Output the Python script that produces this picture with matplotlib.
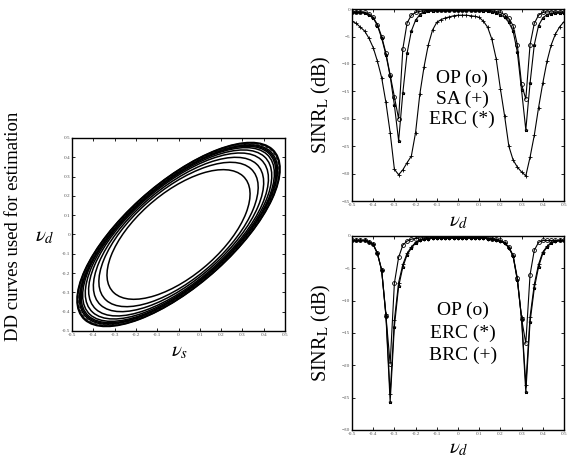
import matplotlib
matplotlib.use("Agg")
import matplotlib.pyplot as plt
from matplotlib.patches import Ellipse

plt.rcParams['font.family'] = ['Liberation Serif', 'DejaVu Serif']
plt.rcParams['mathtext.fontset'] = 'stix'

# DD curves: semi-axes of the tilted ellipses (major along nu_s = nu_d)
semi_major = [0.428, 0.481, 0.517, 0.548, 0.570, 0.587, 0.597, 0.603, 0.609, 0.615, 0.620, 0.624]
semi_minor = [0.206, 0.220, 0.229, 0.237, 0.242, 0.246, 0.248, 0.251, 0.252, 0.253, 0.255, 0.256]
dashed_curve = 9

# SINR curves, sampled on nu_d
nu_d = [-0.50, -0.48, -0.46, -0.44, -0.42, -0.40, -0.38, -0.36, -0.34, -0.32,
        -0.30, -0.28, -0.26, -0.24, -0.22, -0.20, -0.18, -0.16, -0.14, -0.12,
        -0.10, -0.08, -0.06, -0.04, -0.02, 0.00, 0.02, 0.04, 0.06, 0.08,
        0.10, 0.12, 0.14, 0.16, 0.18, 0.20, 0.22, 0.24, 0.26, 0.28,
        0.30, 0.32, 0.34, 0.36, 0.38, 0.40, 0.42, 0.44, 0.46, 0.48, 0.50]

# top panel
top_op = [-0.5, -0.5, -0.5, -0.6, -0.9, -1.5, -2.8, -5.0, -8.0, -12.0,
          -16.0, -20.0, -7.2, -2.5, -1.1, -0.6, -0.4, -0.3, -0.2, -0.2,
          -0.2, -0.2, -0.2, -0.2, -0.2, -0.2, -0.2, -0.2, -0.2, -0.2,
          -0.2, -0.2, -0.2, -0.3, -0.4, -0.6, -1.0, -1.7, -3.0, -6.5,
          -13.7, -16.4, -6.5, -2.6, -1.1, -0.6, -0.5, -0.5, -0.5, -0.5, -0.5]
top_sa = [-2.2, -2.6, -3.3, -4.0, -5.3, -7.0, -9.5, -12.5, -17.0, -22.5,
          -29.2, -30.2, -29.3, -28.0, -26.8, -22.5, -15.5, -10.5, -6.5, -3.8,
          -2.4, -1.9, -1.6, -1.4, -1.2, -1.1, -1.1, -1.1, -1.2, -1.3,
          -1.5, -2.2, -3.3, -5.5, -9.0, -14.5, -19.5, -25.0, -27.5, -28.8,
          -29.7, -30.4, -27.0, -23.0, -18.0, -13.5, -9.5, -6.5, -4.5, -3.2, -2.3]
top_erc = [-0.6, -0.6, -0.6, -0.7, -1.0, -1.6, -3.0, -5.3, -8.3, -12.2,
           -17.5, -24.0, -15.2, -8.0, -4.0, -2.0, -1.0, -0.6, -0.4, -0.3,
           -0.2, -0.2, -0.2, -0.2, -0.2, -0.2, -0.2, -0.2, -0.2, -0.2,
           -0.2, -0.3, -0.4, -0.5, -0.7, -1.0, -1.5, -2.4, -4.0, -7.8,
           -14.8, -22.0, -13.5, -6.5, -3.0, -1.6, -1.0, -0.8, -0.7, -0.7, -0.7]

# bottom panel
bot_op = [-0.7, -0.7, -0.7, -0.7, -0.9, -1.3, -2.7, -5.3, -12.3, -19.8,
          -7.3, -3.3, -1.4, -0.8, -0.5, -0.4, -0.3, -0.3, -0.2, -0.2,
          -0.2, -0.2, -0.2, -0.2, -0.2, -0.2, -0.2, -0.2, -0.2, -0.2,
          -0.2, -0.2, -0.3, -0.4, -0.5, -0.7, -1.0, -1.7, -3.0, -6.5,
          -12.8, -16.6, -6.0, -2.2, -1.0, -0.7, -0.7, -0.7, -0.7, -0.7, -0.7]
bot_erc = [-0.7, -0.7, -0.7, -0.7, -0.9, -1.3, -2.7, -5.3, -12.3, -25.7,
           -14.0, -7.8, -4.8, -2.9, -1.9, -1.1, -0.7, -0.5, -0.4, -0.3,
           -0.3, -0.3, -0.3, -0.3, -0.3, -0.3, -0.3, -0.3, -0.3, -0.3,
           -0.3, -0.3, -0.4, -0.5, -0.6, -0.8, -1.1, -1.8, -3.1, -6.8,
           -12.8, -24.2, -13.3, -8.1, -4.8, -2.7, -1.7, -1.1, -0.8, -0.7, -0.7]
bot_brc = [-0.7, -0.7, -0.7, -0.7, -0.9, -1.3, -2.7, -5.3, -12.0, -24.5,
           -13.0, -7.2, -4.4, -2.7, -1.7, -1.0, -0.6, -0.5, -0.4, -0.3,
           -0.3, -0.3, -0.3, -0.3, -0.3, -0.3, -0.3, -0.3, -0.3, -0.3,
           -0.3, -0.3, -0.4, -0.5, -0.6, -0.8, -1.1, -1.8, -3.1, -6.8,
           -12.6, -23.0, -12.5, -7.5, -4.4, -2.5, -1.6, -1.0, -0.8, -0.7, -0.7]

ticks01 = [-0.5, -0.4, -0.3, -0.2, -0.1, 0, 0.1, 0.2, 0.3, 0.4, 0.5]
tick_txt = ['-0.5', '-0.4', '-0.3', '-0.2', '-0.1', '0', '0.1', '0.2', '0.3', '0.4', '0.5']


def style_axes(ax):
    ax.tick_params(direction='in', top=True, right=True, length=2.5, width=0.6,
                   labelsize=3.8, labelcolor='#555555', pad=1.5)
    for s in ax.spines.values():
        s.set_linewidth(1.0)


fig = plt.figure(figsize=(5.68, 4.59), dpi=100)

# left panel: DD curves
ax0 = fig.add_axes([0.1268, 0.2789, 0.375, 0.4205])
for i, (a, b) in enumerate(zip(semi_major, semi_minor)):
    if i == dashed_curve:
        e = Ellipse((0, 0), 2 * a, 2 * b, angle=45, fill=False, lw=0.9,
                    ls=(0, (2.5, 1.5)), color='#333333')
    else:
        e = Ellipse((0, 0), 2 * a, 2 * b, angle=45, fill=False, lw=1.1, color='black')
    ax0.add_patch(e)
ax0.set_xlim(-0.5, 0.5)
ax0.set_ylim(-0.5, 0.5)
ax0.set_xticks(ticks01, tick_txt)
ax0.set_yticks(ticks01, tick_txt)
style_axes(ax0)

fig.text(14 / 568, 1 - 226 / 459, 'DD curves used for estimation', rotation=90,
         ha='center', va='center', fontsize=13.5)
fig.text(45 / 568, 1 - 237 / 459, r'$\nu_d$', ha='center', va='center', fontsize=15)
fig.text(180 / 568, 1 - 352 / 459, r'$\nu_s$', ha='center', va='center', fontsize=15)

mk = dict(color='black', lw=0.8, markersize=2.8, markerfacecolor='none', markeredgewidth=0.6)

# top right panel
ax1 = fig.add_axes([0.6197, 0.562, 0.3732, 0.418])
ax1.plot(nu_d, top_op, marker='o', **mk)
ax1.plot(nu_d, top_sa, marker='+', **mk)
ax1.plot(nu_d, top_erc, marker='*', **dict(mk, markersize=2.4))
ax1.set_xlim(-0.5, 0.5)
ax1.set_ylim(-35, 0)
ax1.set_xticks(ticks01, tick_txt)
ax1.set_yticks([0, -5, -10, -15, -20, -25, -30, -35])
style_axes(ax1)
ax1.set_ylabel(r'SINR$_{\mathrm{L}}$ (dB)', fontsize=14.5, labelpad=6)
fig.text(459 / 568, 1 - 222 / 459, r'$\nu_d$', ha='center', va='center', fontsize=15)
for label, y in zip(['OP (o)', 'SA (+)', 'ERC (*)'], [78, 99, 119]):
    fig.text(462 / 568, 1 - y / 459, label, ha='center', va='center', fontsize=14)

# bottom right panel
ax2 = fig.add_axes([0.6197, 0.0632, 0.3732, 0.4227])
ax2.plot(nu_d, bot_op, marker='o', **mk)
ax2.plot(nu_d, bot_erc, marker='*', **dict(mk, markersize=2.4))
ax2.plot(nu_d, bot_brc, marker='+', **mk)
ax2.set_xlim(-0.5, 0.5)
ax2.set_ylim(-30, 0)
ax2.set_xticks(ticks01, tick_txt)
ax2.set_yticks([0, -5, -10, -15, -20, -25, -30])
style_axes(ax2)
ax2.set_ylabel(r'SINR$_{\mathrm{L}}$ (dB)', fontsize=14.5, labelpad=6)
fig.text(459 / 568, 1 - 449 / 459, r'$\nu_d$', ha='center', va='center', fontsize=15)
for label, y in zip(['OP (o)', 'ERC (*)', 'BRC (+)'], [310, 333, 355]):
    fig.text(463 / 568, 1 - y / 459, label, ha='center', va='center', fontsize=14)

fig.savefig('out.png', dpi=100)
